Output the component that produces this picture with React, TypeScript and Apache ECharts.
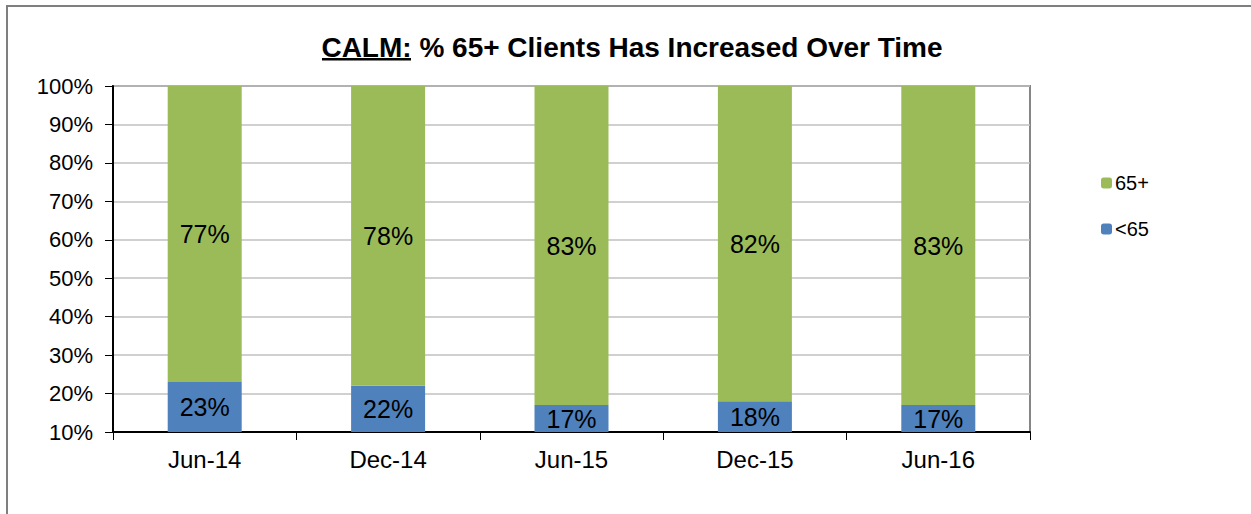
import React, { useEffect, useRef } from "react";
import * as echarts from "echarts";

const categories = ["Jun-14", "Dec-14", "Jun-15", "Dec-15", "Jun-16"];
const under65 = [23, 22, 17, 18, 17];
const over65 = [77, 78, 83, 82, 83];
const yTicks = { min: 10, max: 100, interval: 10 };

export default function App() {
  const ref = useRef<HTMLDivElement>(null);
  useEffect(() => {
    if (!ref.current) return;
    const chart = echarts.init(ref.current, null, { renderer: "svg" });
    const font = "Arial, 'Liberation Sans', sans-serif";
    chart.setOption({
      animation: false,
      backgroundColor: "#ffffff",
      textStyle: { fontFamily: font },
      graphic: [
        {
          type: "rect",
          shape: { x: 7, y: 6, width: 1270, height: 540 },
          style: { fill: "none", stroke: "#7f7f7f", lineWidth: 2 },
          silent: true,
        },
        {
          type: "text",
          x: 632,
          y: 47,
          style: {
            text: "CALM: % 65+ Clients Has Increased Over Time",
            font: "bold 28px Arial, 'Liberation Sans', sans-serif",
            fill: "#000",
            align: "center",
            verticalAlign: "middle",
          },
        },
        {
          type: "rect",
          shape: { x: 322, y: 58, width: 89, height: 2.5 },
          style: { fill: "#000" },
        },
      ],
      legend: {
        orient: "vertical",
        left: 1096,
        top: 167,
        itemWidth: 11,
        itemHeight: 11,
        itemGap: 24,
        data: ["65+", "<65"],
        textStyle: { fontSize: 20, color: "#000", lineHeight: 22, padding: [0, 0, 0, -2] },
      },
      grid: {
        left: 113,
        right: 221,
        top: 86,
        bottom: 82,
        show: true,
        borderColor: "#868686",
        borderWidth: 2,
        backgroundColor: "transparent",
      },
      xAxis: {
        type: "category",
        data: categories,
        axisLine: { lineStyle: { color: "#000", width: 2 } },
        axisTick: { show: true, length: 8, lineStyle: { color: "#000" }, alignWithLabel: false },
        axisLabel: { fontSize: 24, color: "#000", margin: 15 },
      },
      yAxis: {
        type: "value",
        min: yTicks.min,
        max: yTicks.max,
        interval: yTicks.interval,
        axisLine: { show: true, lineStyle: { color: "#000", width: 2 } },
        axisTick: { show: true, length: 8, lineStyle: { color: "#000" } },
        axisLabel: { fontSize: 22, color: "#000", margin: 20, formatter: "{value}%" },
        splitLine: { lineStyle: { color: "#c0c0c0", width: 1.5 } },
      },
      series: [
        {
          name: "<65",
          type: "bar",
          stack: "total",
          data: under65,
          barWidth: 74,
          itemStyle: { color: "#4F81BD" },
          label: {
            show: true,
            position: "inside",
            formatter: "{c}%",
            fontSize: 25,
            color: "#000",
          },
        },
        {
          name: "65+",
          type: "bar",
          stack: "total",
          data: over65,
          barWidth: 74,
          itemStyle: { color: "#9BBB59" },
          label: {
            show: true,
            position: "inside",
            formatter: "{c}%",
            fontSize: 25,
            color: "#000",
          },
        },
      ],
    });
    return () => chart.dispose();
  }, []);
  return (
    <div
      ref={ref}
      style={{ position: "fixed", left: 0, top: 0, width: 1251, height: 514 }}
    />
  );
}
